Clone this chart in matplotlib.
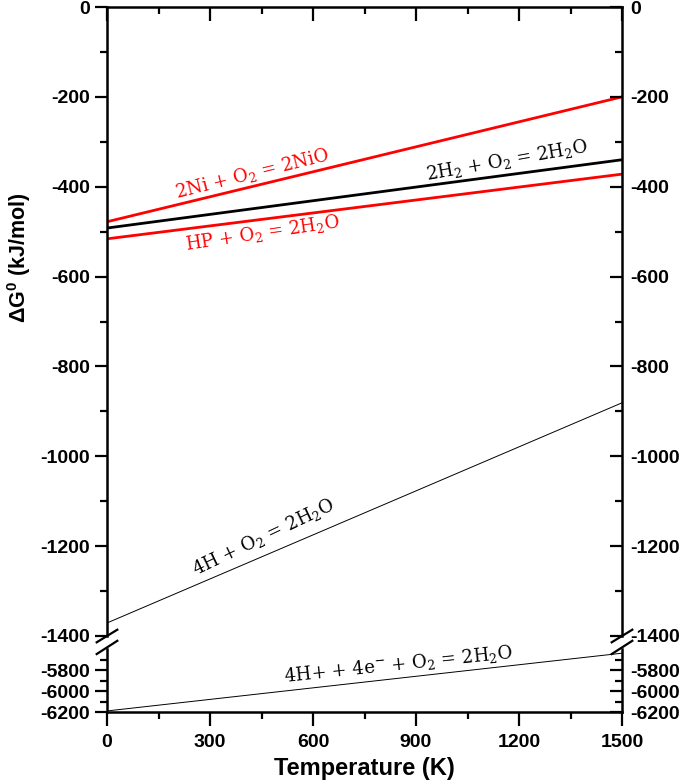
import numpy as np
import matplotlib.pyplot as plt

plt.rcParams['mathtext.default'] = 'regular'
plt.rcParams['axes.unicode_minus'] = False

# --- data ---
T = [0, 1500]
dg_ni = [-478, -200]      # 2Ni + O2 = 2NiO
dg_h2 = [-492, -340]      # 2H2 + O2 = 2H2O
dg_hp = [-516, -372]      # HP + O2 = 2H2O
dg_4h = [-1371, -881]     # 4H + O2 = 2H2O
dg_4hp = [-6190, -5640]   # 4H+ + 4e- + O2 = 2H2O

top_major = np.arange(-1400, 1, 200)
top_minor = np.arange(-1400, 1, 100)
bot_major = [-6200, -6000, -5800]
bot_minor = [-6100, -5900, -5700]
x_major = np.arange(0, 1501, 300)
x_minor = np.arange(0, 1501, 150)

tick_font = dict(fontsize=14, fontweight='bold', family='Liberation Sans')
ann_font = dict(fontsize=13, family='DejaVu Serif')

fig = plt.figure(figsize=(6.85, 7.84), dpi=100)
left, width = 107 / 685, 515 / 685
ax = fig.add_axes([left, 1 - 636 / 784, width, 629 / 784])
axb = fig.add_axes([left, 1 - 712 / 784, width, 63 / 784])

# --- top panel ---
ax.plot(T, dg_ni, color='red', lw=2)
ax.plot(T, dg_h2, color='black', lw=2)
ax.plot(T, dg_hp, color='red', lw=2)
ax.plot(T, dg_4h, color='black', lw=0.7)
ax.set_xlim(0, 1500)
ax.set_ylim(-1400, 0)
ax.spines['bottom'].set_visible(False)

# --- bottom panel ---
axb.plot(T, dg_4hp, color='black', lw=0.7)
axb.set_xlim(0, 1500)
axb.set_ylim(-6200, -5600)
axb.spines['top'].set_visible(False)

for a, maj, mnr in [(ax, top_major, top_minor), (axb, bot_major, bot_minor)]:
    for s in a.spines.values():
        s.set_linewidth(1.8)
    a.set_yticks(maj)
    a.set_yticks(mnr, minor=True)
    a.set_xticks(x_major)
    a.set_xticks(x_minor, minor=True)
    a.tick_params(axis='y', which='major', direction='out', length=9, width=1.6, pad=3)
    a.tick_params(axis='y', which='minor', direction='out', length=5, width=1.6)
    for lab in a.get_yticklabels():
        lab.set(**tick_font)
    # right axis with inward ticks
    r = a.twinx()
    r.set_ylim(a.get_ylim())
    r.set_yticks(maj)
    r.set_yticks(mnr, minor=True)
    r.tick_params(axis='y', which='major', direction='in', length=9, width=1.6, pad=6)
    r.tick_params(axis='y', which='minor', direction='in', length=5, width=1.6)
    for s in r.spines.values():
        s.set_visible(False)
    for lab in r.get_yticklabels():
        lab.set(**tick_font)

ax.tick_params(axis='x', which='both', bottom=False, top=True, labelbottom=False,
               direction='in', width=1.6)
ax.tick_params(axis='x', which='major', length=10)
ax.tick_params(axis='x', which='minor', length=5)

axb.tick_params(axis='x', which='both', direction='out', width=1.6)
axb.tick_params(axis='x', which='major', length=10, pad=6)
axb.tick_params(axis='x', which='minor', length=5)
for lab in axb.get_xticklabels():
    lab.set(**tick_font)

# --- break marks ---
for xa in (0, 1):
    ax.plot([xa - 0.02, xa + 0.02], [-0.01, 0.01], transform=ax.transAxes,
            color='black', lw=1.6, clip_on=False)
    axb.plot([xa - 0.02, xa + 0.02], [0.92, 1.13], transform=axb.transAxes,
             color='black', lw=1.6, clip_on=False)

# --- labels on lines ---
ax.text(422, -372, '2Ni + O$_2$ = 2NiO', color='red', rotation=14,
        ha='center', va='center', **ann_font)
ax.text(1165, -341, '2H$_2$ + O$_2$ = 2H$_2$O', color='black', rotation=10,
        ha='center', va='center', **ann_font)
ax.text(452, -504, 'HP + O$_2$ = 2H$_2$O', color='red', rotation=8.5,
        ha='center', va='center', **ann_font)
ax.text(455, -1180, '4H + O$_2$ = 2H$_2$O', color='black', rotation=25.5,
        ha='center', va='center', **ann_font)
axb.text(850, -5752, '4H+ + 4e$^{-}$ + O$_2$ = 2H$_2$O', color='black', rotation=6,
         ha='center', va='center', **ann_font)

axb.set_xlabel('Temperature (K)', fontsize=17, fontweight='bold',
               family='Liberation Sans', labelpad=4)
fig.text(0.028, 1 - 258 / 784, r'$\Delta$G$^0$ (kJ/mol)', rotation=90,
         ha='center', va='center', fontsize=15.5, fontweight='bold',
         family='Liberation Sans')

fig.savefig('out.png', dpi=100)
